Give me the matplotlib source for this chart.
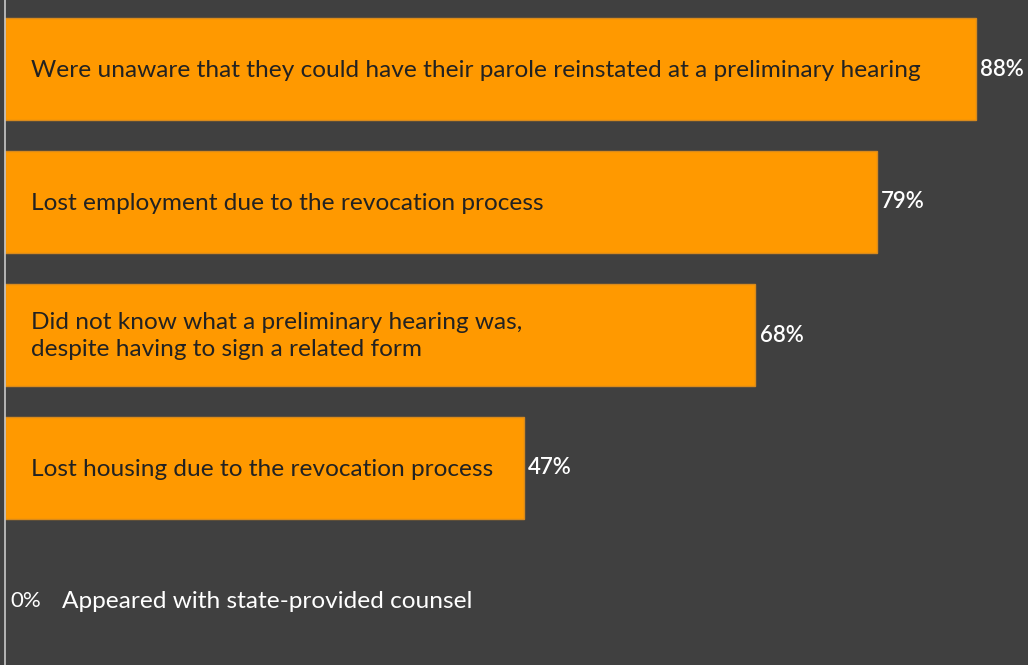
import matplotlib.pyplot as plt
import numpy as np

labels = [
    "Were unaware that they could have their parole reinstated at a preliminary hearing",
    "Lost employment due to the revocation process",
    "Did not know what a preliminary hearing was,\ndespite having to sign a related form",
    "Lost housing due to the revocation process",
    "Appeared with state-provided counsel",
]
values = [88, 79, 68, 47, 0]
value_labels = ["88%", "79%", "68%", "47%", "0%"]

BG = "#404040"
ORANGE = "#ff9900"

plt.rcParams["font.family"] = ["Lato", "DejaVu Sans"]

fig = plt.figure(figsize=(10.28, 6.65), dpi=100, facecolor=BG)
ax = fig.add_axes([0, 0, 1, 1])
ax.set_facecolor(BG)

y = np.arange(len(values))
# no outline on an empty bar
widths = [1 if v > 0 else 0 for v in values]
ax.barh(y, values, height=0.77, color=ORANGE, edgecolor="#d98a1c", linewidth=widths)

for yi, v, lab, vl in zip(y, values, labels, value_labels):
    if v > 0:
        ax.text(2.4, yi + 0.01, lab, ha="left", va="center", color="#222222",
                fontsize=17.6, linespacing=1.35)
        ax.text(v + 0.4, yi, vl, ha="left", va="center", color="white",
                fontsize=16, fontweight="semibold")
    else:
        ax.text(0.45, yi, vl, ha="left", va="center", color="white", fontsize=16)
        ax.text(5.2, yi, lab, ha="left", va="center", color="white", fontsize=17.6)

ax.axvline(0, color="#c8c8c8", linewidth=1.2, zorder=5)

ax.set_xlim(-5 / 11.034, (1028 - 5) / 11.034)
ax.set_ylim((665 - 69) / 133, -69 / 133)
ax.axis("off")

fig.savefig("out.png", dpi=100, facecolor=BG)
